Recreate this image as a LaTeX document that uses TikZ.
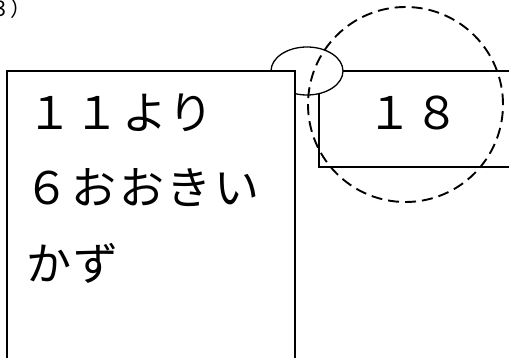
\documentclass[tikz,border=0pt]{standalone}
\usepackage{fontspec}
\newfontfamily\cjk[LetterSpace=5.5]{Noto Sans CJK JP}
\newfontfamily\cjksmall{Noto Sans CJK JP}
\usetikzlibrary{shapes.geometric}
\begin{document}
\begin{tikzpicture}[x=1pt,y=-1pt,
  box/.style={draw, fill=white, line width=1.3pt, inner sep=0pt, outer sep=0pt, anchor=north west},
  jtext/.style={font=\cjk\fontsize{45}{45}\selectfont, inner sep=0pt, anchor=base west},
  lens/.style={ellipse, draw, fill=white, line width=1.3pt, inner sep=0pt, minimum width=72pt, minimum height=48pt},
  ring/.style={circle, draw, line width=1.9pt, dash pattern=on 11pt off 6pt, inner sep=0pt, minimum size=195pt}]
\useasboundingbox (0,0) rectangle (509,358);
\fill[white] (0,0) rectangle (509,358);
% top-left label (cropped)
\node[font=\cjksmall\fontsize{21}{21}\selectfont, inner sep=0pt, anchor=base west] (lab) at (-11,17) {３）};
% right box, lens, left box
\node[box, minimum width=211pt, minimum height=96pt] (R) at (319,71) {};
\node[lens] (E) at (307,71) {};
\node[box, minimum width=288pt, minimum height=309pt] (L) at (7,71) {};
\node[ring] (C) at (405.5,104.5) {};
% texts
\node[jtext] (t1) at (27,130) {１１より};
\node[jtext] (t2) at (24,205) {６おおきい};
\node[jtext] (t3) at (26,281) {かず};
\node[jtext] (t4) at (367,130) {１８};
\end{tikzpicture}
\end{document}
